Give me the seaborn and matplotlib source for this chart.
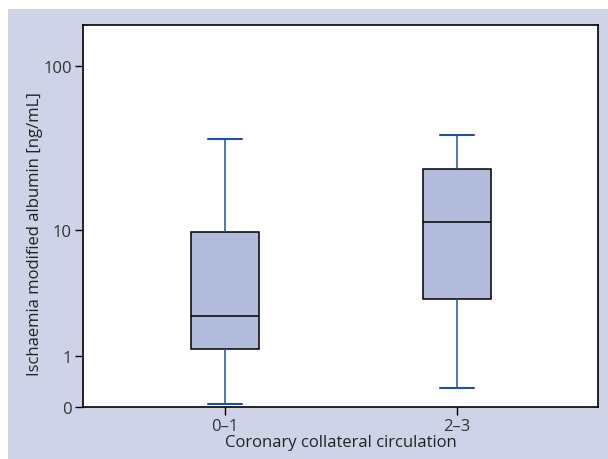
import numpy as np
import pandas as pd
import seaborn as sns
import matplotlib.pyplot as plt
from matplotlib.patches import Rectangle
from matplotlib.ticker import NullLocator

# Values (ng/mL)
groups = ['0–1', '2–3']
whisker_low = [0.04, 0.30]
q1 = [1.18, 3.30]
median = [2.42, 11.2]
q3 = [9.75, 24.1]
whisker_high = [36.7, 38.9]
y_ticks = [0, 1, 10, 100]

# five points per group -> quartiles land exactly on q1/median/q3
rows = []
for i, g in enumerate(groups):
    for v in (whisker_low[i], q1[i], median[i], q3[i], whisker_high[i]):
        rows.append({'collateral': g, 'ima': v})
df = pd.DataFrame(rows)

sns.set_style('ticks')
plt.rcParams['font.family'] = ['Open Sans', 'DejaVu Sans']

BG = '#cfd3e7'
FILL = '#b2bbdb'
WHISK = '#1a54a0'

fig = plt.figure(figsize=(6.08, 4.60), dpi=100, facecolor='white')
fig.patches.append(Rectangle((8 / 608, 0), 1, 1 - 10 / 460, transform=fig.transFigure,
                             facecolor=BG, edgecolor='none', zorder=-1))
ax = fig.add_axes([83 / 608, 1 - 408 / 460, 515 / 608, 382 / 460])
ax.set_facecolor('white')

sns.boxplot(data=df, x='collateral', y='ima', order=groups, ax=ax,
            whis=(0, 100), width=0.29, saturation=1, color=FILL,
            boxprops=dict(facecolor=FILL, edgecolor='black', linewidth=1.1),
            medianprops=dict(color='black', linewidth=1.1),
            whiskerprops=dict(color=WHISK, linewidth=1.1),
            capprops=dict(color=WHISK, linewidth=1.5))

ax.set_yscale('function', functions=(lambda y: np.log10(1 + np.maximum(y, 0)),
                                     lambda t: 10 ** t - 1))
ax.set_ylim(0, 175.6)
ax.set_xlim(-0.612, 1.608)
ax.set_yticks(y_ticks)
ax.set_yticklabels([str(t) for t in y_ticks])
ax.yaxis.set_minor_locator(NullLocator())

for spine in ax.spines.values():
    spine.set_visible(True)
    spine.set_color('black')
    spine.set_linewidth(1.2)
ax.tick_params(axis='both', length=6, width=1, color='black',
               labelcolor='#333333', labelsize=12, pad=2)

ax.set_xlabel('Coronary collateral circulation', fontsize=12, color='#222222', labelpad=0)
ax.set_ylabel('Ischaemia modified albumin [ng/mL]', fontsize=12, color='#222222')
ax.yaxis.set_label_coords(-0.078, 0.455)

fig.savefig('out.png', dpi=100, facecolor='white')
